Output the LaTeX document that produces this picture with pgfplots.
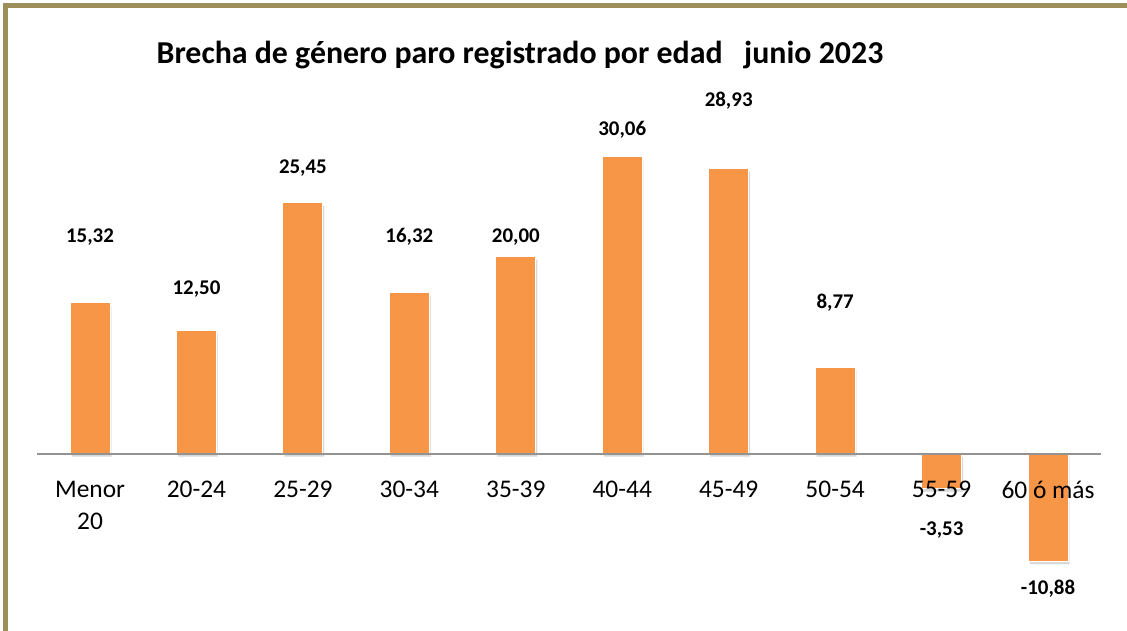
\documentclass[border=0pt]{standalone}
\usepackage{fontspec}
\setmainfont{Carlito}
\usepackage{pgfplots}
\pgfplotsset{compat=1.18}
\usetikzlibrary{shadows}
\definecolor{barOrange}{HTML}{F79646}
\definecolor{frameOlive}{HTML}{9C8F5A}
\definecolor{zeroGray}{HTML}{939393}
\begin{document}
\begin{tikzpicture}
\useasboundingbox (0,0) rectangle (1127bp,631bp);
\begin{scope}
\clip (0,0) rectangle (1127bp,631bp);
\draw[frameOlive, line width=5bp] (5.5bp,-20bp) rectangle (1150bp,625.5bp);
\end{scope}
\node[font=\fontsize{32}{36}\selectfont\bfseries] at (520bp,576bp)
    {Brecha de género paro registrado por edad\hspace{0.45em} junio 2023};
\begin{axis}[
    at={(36.8bp,38.7bp)}, anchor=south west,
    scale only axis,
    width=1064.4bp, height=494bp,
    xmin=-0.5, xmax=9.5,
    ymin=-14, ymax=36,
    axis on top,
    axis x line=middle,
    axis y line=none,
    x axis line style={zeroGray, line width=1.2bp, -},
    xtick={0,...,9},
    xticklabels={{Menor\\20},20-24,25-29,30-34,35-39,40-44,45-49,50-54,55-59,60 ó más},
    major tick length=0pt,
    xticklabel style={font=\fontsize{25.5}{32}\selectfont, align=center,
        anchor=north, yshift=-27bp, inner sep=0pt},
    ybar,
    bar width=40bp,
    clip=false,
]
\addplot[fill=barOrange, draw=white, line width=1bp,
    drop shadow={shadow xshift=1.5bp, shadow yshift=-3bp, opacity=0.3}]
    coordinates {
    (0,15.32) (1,12.50) (2,25.45) (3,16.32) (4,20.00)
    (5,30.06) (6,28.93) (7,8.77) (8,-3.53) (9,-10.88)
};
% data labels, placed where the reference has them
\foreach \xx/\yy/\tt in {0/21.96/15{,}32, 1/16.7/12{,}50, 2/28.95/25{,}45,
    3/21.96/16{,}32, 4/21.96/20{,}00, 5/32.8/30{,}06, 6/35.8/28{,}93,
    7/15.3/8{,}77, 8/-7.7/-3{,}53, 9/-13.6/-10{,}88} {
  \edef\temp{\noexpand\node[font=\noexpand\fontsize{21}{24}\noexpand\selectfont\noexpand\bfseries]
      at (axis cs:\xx,\yy) {\tt};}
  \temp
}
\end{axis}
\end{tikzpicture}
\end{document}
